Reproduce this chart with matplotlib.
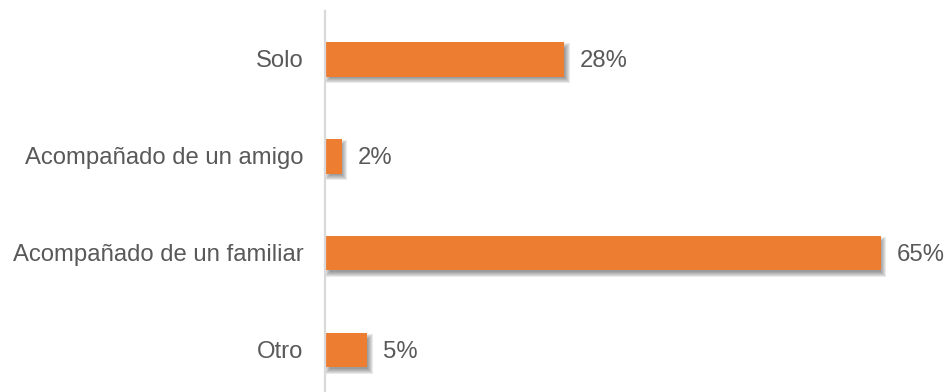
import matplotlib
matplotlib.use("Agg")
import matplotlib.pyplot as plt
from matplotlib.patches import Rectangle

categories = ["Solo", "Acompañado de un amigo", "Acompañado de un familiar", "Otro"]
values = [28, 2, 65, 5]
value_labels = ["28%", "2%", "65%", "5%"]

BAR_COLOR = "#ED7D31"
TEXT_COLOR = "#595959"
AXIS_COLOR = "#D9D9D9"
FONT_SIZE = 17.2

W, H, DPI = 949, 392, 100
fig = plt.figure(figsize=(W / DPI, H / DPI), dpi=DPI)
plt.rcParams["font.family"] = ["Liberation Sans", "DejaVu Sans"]

left_px, right_px = 324.5, 949
top_px, bottom_px = 11, 398.5
ax = fig.add_axes([left_px / W, 1 - bottom_px / H,
                   (right_px - left_px) / W, (bottom_px - top_px) / H])
ax.set_xlim(0, 73)
ax.set_ylim(len(categories) - 0.5, -0.5)

# pixel -> data conversion for the soft shadow and label nudges
px_x = 73 / (right_px - left_px)
px_y = len(categories) / (bottom_px - top_px)

bar_h = 0.355
text_dy = 2 * px_y
shadow_grow = [2.8, 1.8, 0.8, -0.2, -1.2, -2.2]
for i, v in enumerate(values):
    # soft drop shadow offset down and to the right of the bar
    off_x, off_y = 3.0, 3.5
    for grow in shadow_grow:
        ax.add_patch(Rectangle(
            ((off_x - grow) * px_x, i - bar_h / 2 + (off_y - grow) * px_y),
            v + 2 * grow * px_x,
            bar_h + 2 * grow * px_y,
            facecolor="#333333", edgecolor="none", alpha=0.1, zorder=1,
            clip_on=False))
    ax.barh(i, v, height=bar_h, color=BAR_COLOR, zorder=3)
    ax.text(v + 16 * px_x, i + text_dy, value_labels[i], va="center", ha="left",
            fontsize=FONT_SIZE, color=TEXT_COLOR, zorder=4)
    ax.text(-21 * px_x, i + text_dy, categories[i], va="center", ha="right",
            fontsize=FONT_SIZE, color=TEXT_COLOR, clip_on=False)

ax.set_yticks([])
ax.set_xticks([])
for s in ["top", "right", "bottom"]:
    ax.spines[s].set_visible(False)
ax.spines["left"].set_color(AXIS_COLOR)
ax.spines["left"].set_linewidth(1.6)
ax.spines["left"].set_zorder(5)
ax.patch.set_alpha(0)

fig.savefig("out.png", dpi=DPI)
